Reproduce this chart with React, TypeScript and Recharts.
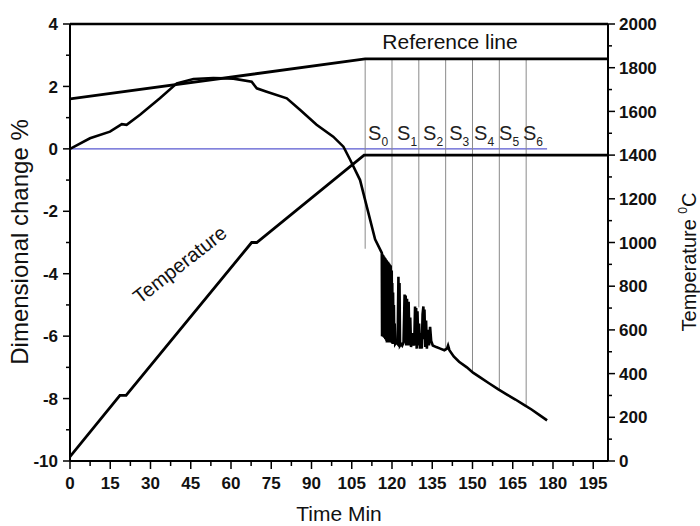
import React from 'react';
import { LineChart, Line, XAxis, YAxis, ReferenceLine, ReferenceDot } from 'recharts';

const FONT = 'Arial, "Liberation Sans", Helvetica, sans-serif';

// Dimensional change (%) vs time (min): [time, value]
const DIM_HEATING: [number, number][] = [
  [0, 0], [7.45, 0.34], [14.9, 0.55], [19.3, 0.79], [21.1, 0.77], [26.1, 1.09],
  [33.5, 1.62], [39.8, 2.1], [46, 2.24], [53.4, 2.27], [60.9, 2.25], [67.7, 2.15],
  [69.6, 1.94], [73.3, 1.83], [80.8, 1.62], [85.7, 1.25], [91.9, 0.77], [98.1, 0.39],
  [101.9, 0.07], [104.4, -0.35], [108.1, -1.0], [113.7, -2.9],
];
const DIM_OSCILLATION: [number, number][] = [
  [116.2, -3.33], [116.3, -6.0], [116.4, -3.36], [116.5, -6.0], [116.6, -3.4], [116.7, -6.02],
  [116.8, -3.42], [116.9, -6.0], [117.0, -3.45], [117.1, -6.05], [117.2, -3.47], [117.3, -6.05],
  [117.4, -3.5], [117.5, -6.1], [117.6, -3.52], [117.7, -6.1], [117.8, -3.55], [117.9, -6.15],
  [118.0, -3.57], [118.1, -6.2], [118.2, -3.6], [118.35, -6.2], [118.5, -3.62], [118.6, -6.2],
  [118.7, -3.65], [118.8, -6.15], [118.9, -3.67], [119.0, -6.2], [119.1, -3.7], [119.25, -6.2],
  [119.4, -3.72], [119.5, -6.2], [119.6, -3.75], [119.75, -6.2], [119.9, -3.9], [120.0, -6.22],
  [120.1, -4.3], [120.25, -6.25], [120.4, -4.6], [120.55, -6.25], [120.7, -5.0], [120.85, -6.25],
  [121.0, -5.6], [121.2, -6.25], [121.6, -6.2], [122.1, -6.25],
  [122.4, -4.1], [122.6, -6.3], [122.8, -4.3], [123.0, -6.3], [123.4, -6.25], [123.8, -6.3],
  [124.3, -6.2], [124.7, -4.67], [124.9, -6.2], [125.1, -4.7], [125.3, -6.3], [125.6, -4.8],
  [125.9, -6.3], [126.2, -4.9], [126.5, -6.3], [126.8, -5.4], [127.1, -6.35], [127.5, -5.9],
  [127.9, -6.3], [128.3, -6.2], [128.6, -5.05], [128.8, -6.3], [129.0, -5.1], [129.2, -6.4],
  [129.5, -5.2], [129.8, -6.3], [130.1, -5.6], [130.4, -6.4], [130.8, -5.9], [131.1, -6.4],
  [131.4, -5.3], [131.7, -5.05], [131.9, -6.1], [132.1, -5.15], [132.4, -6.35], [132.7, -5.5],
  [133.0, -6.4], [133.4, -5.8], [133.8, -6.3], [134.2, -5.7], [134.6, -6.15], [135.2, -6.3],
  [136.5, -6.35], [138, -6.4], [139.5, -6.45], [140.5, -6.4], [140.9, -6.3], [141.4, -6.45],
];
const DIM_COOLING: [number, number][] = [
  [143, -6.65], [145, -6.82], [147.9, -7.0], [150.2, -7.17], [153, -7.33], [156, -7.5],
  [159.5, -7.7], [163, -7.88], [166, -8.03], [169.2, -8.2], [172, -8.35], [175, -8.53],
  [177.8, -8.7],
];

// Temperature (°C) vs time (min)
const TEMPERATURE: [number, number][] = [
  [0, 20], [18.6, 300], [20.9, 300], [67.7, 1000], [69.6, 1000], [109.6, 1400], [200.5, 1400],
];

// Reference line (dimensional change %) vs time
const REFERENCE: [number, number][] = [
  [0, 1.6], [110, 2.88], [200.5, 2.88],
];

// Stage markers S0..S6
const MARKER_TIMES = [110, 120, 130, 140, 150, 160, 170];
const MARKER_BOTTOMS = [-3.2, -3.75, -5.08, -6.4, -7.15, -7.72, -8.24];
const MARKER_TOP = 2.88;
const STAGE_LABELS = ['0', '1', '2', '3', '4', '5', '6'];
const STAGE_LABEL_TIMES = [111.1, 121.9, 131.6, 141.3, 150.6, 159.9, 168.8];
const STAGE_LABEL_Y = 0.28;
const ZERO_LINE_END = 177.8;

const TIME_TICKS = [0, 7.5, 15, 22.5, 30, 37.5, 45, 52.5, 60, 67.5, 75, 82.5, 90, 97.5, 105, 112.5, 120, 127.5, 135, 142.5, 150, 157.5, 165, 172.5, 180, 187.5, 195];
const TIME_MAJOR = [0, 15, 30, 45, 60, 75, 90, 105, 120, 135, 150, 165, 180, 195];
const DIM_TICKS = [4, 3, 2, 1, 0, -1, -2, -3, -4, -5, -6, -7, -8, -9, -10];
const DIM_MAJOR = [4, 2, 0, -2, -4, -6, -8, -10];
const TEMP_TICKS = [0, 100, 200, 300, 400, 500, 600, 700, 800, 900, 1000, 1100, 1200, 1300, 1400, 1500, 1600, 1700, 1800, 1900, 2000];
const TEMP_MAJOR = [0, 200, 400, 600, 800, 1000, 1200, 1400, 1600, 1800, 2000];

const rows = (pairs: [number, number][], key: string) => pairs.map(([t, v]) => ({ t, [key]: v }));
const dimData = rows([...DIM_HEATING, ...DIM_OSCILLATION, ...DIM_COOLING], 'd');
const tempData = rows(TEMPERATURE, 'T');
const refData = rows(REFERENCE, 'r');

const tickText = { fontFamily: FONT, fontWeight: 700, fontSize: 17, fill: '#111' } as const;

const LeftTick = (props: any) => {
  const { x, y, payload } = props;
  const major = DIM_MAJOR.includes(payload.value);
  return (
    <g>
      <line x1={x} x2={x - (major ? 7 : 4)} y1={y} y2={y} stroke="#000" strokeWidth={1.5} />
      {major && (
        <text x={x - 12} y={y} dy="0.36em" textAnchor="end" {...tickText}>{payload.value}</text>
      )}
    </g>
  );
};

const RightTick = (props: any) => {
  const { x, y, payload } = props;
  const major = TEMP_MAJOR.includes(payload.value);
  return (
    <g>
      <line x1={x} x2={x + (major ? 7 : 4)} y1={y} y2={y} stroke="#000" strokeWidth={1.5} />
      {major && (
        <text x={x + 11} y={y} dy="0.36em" textAnchor="start" {...tickText}>{payload.value}</text>
      )}
    </g>
  );
};

const BottomTick = (props: any) => {
  const { x, y, payload } = props;
  const major = TIME_MAJOR.includes(payload.value);
  return (
    <g>
      <line x1={x} x2={x} y1={y} y2={y + (major ? 8 : 5)} stroke="#000" strokeWidth={1.5} />
      {major && (
        <text x={x} y={y + 28} textAnchor="middle" {...tickText}>{payload.value}</text>
      )}
    </g>
  );
};

const stageShape = (label: string) => (p: any) => (
  <text x={p.cx} y={p.cy} textAnchor="start" fontFamily={FONT} fontSize={20} fill="#222">
    S<tspan fontSize={12} dy={6}>{label}</tspan>
  </text>
);

export default function App() {
  return (
    <div style={{ position: 'absolute', left: 0, top: 0, width: 700, height: 526, background: '#fff' }}>
      <LineChart width={700} height={526} margin={{ top: 24, right: 12, bottom: 0, left: 0 }}>
        <XAxis
          dataKey="t"
          type="number"
          domain={[0, 200.5]}
          ticks={TIME_TICKS}
          interval={0}
          allowDataOverflow
          height={65}
          tickSize={0}
          tickMargin={0}
          tickLine={false}
          axisLine={{ stroke: '#000', strokeWidth: 2 }}
          tick={BottomTick}
        />
        <YAxis
          yAxisId="left"
          orientation="left"
          type="number"
          domain={[-10, 4]}
          ticks={DIM_TICKS}
          interval={0}
          width={70}
          tickSize={0}
          tickMargin={0}
          tickLine={false}
          axisLine={{ stroke: '#000', strokeWidth: 2 }}
          tick={LeftTick}
        />
        <YAxis
          yAxisId="right"
          orientation="right"
          type="number"
          domain={[0, 2000]}
          ticks={TEMP_TICKS}
          interval={0}
          width={80}
          tickSize={0}
          tickMargin={0}
          tickLine={false}
          axisLine={{ stroke: '#000', strokeWidth: 2 }}
          tick={RightTick}
        />
        <ReferenceLine yAxisId="left" y={4} stroke="#000" strokeWidth={2.5} />
        <ReferenceLine
          yAxisId="left"
          segment={[{ x: 0, y: 0 }, { x: ZERO_LINE_END, y: 0 }]}
          stroke="#5858d0"
          strokeWidth={1.2}
        />
        {MARKER_TIMES.map((t, i) => (
          <ReferenceLine
            key={t}
            yAxisId="left"
            segment={[{ x: t, y: MARKER_TOP }, { x: t, y: MARKER_BOTTOMS[i] }]}
            stroke="#8a8a8a"
            strokeWidth={1}
          />
        ))}
        <Line data={refData} dataKey="r" yAxisId="left" type="linear" stroke="#000" strokeWidth={2.8} dot={false} isAnimationActive={false} />
        <Line data={tempData} dataKey="T" yAxisId="right" type="linear" stroke="#000" strokeWidth={2.8} dot={false} isAnimationActive={false} />
        <Line data={dimData} dataKey="d" yAxisId="left" type="linear" stroke="#000" strokeWidth={2.6} dot={false} isAnimationActive={false} />
        {STAGE_LABELS.map((s, i) => (
          <ReferenceDot
            key={s}
            yAxisId="left"
            x={STAGE_LABEL_TIMES[i]}
            y={STAGE_LABEL_Y}
            r={1}
            shape={stageShape(s)}
          />
        ))}
        <text x={450} y={49} textAnchor="middle" fontFamily={FONT} fontSize={21} fill="#111">Reference line</text>
        <text transform="translate(184,270) rotate(-38)" textAnchor="middle" fontFamily={FONT} fontSize={20} fill="#111">Temperature</text>
        <text transform="translate(28,242) rotate(-90)" textAnchor="middle" fontFamily={FONT} fontSize={24} fill="#111">Dimensional change %</text>
        <text transform="translate(696,262) rotate(-90)" textAnchor="middle" fontFamily={FONT} fontSize={20} fill="#111">
          Temperature <tspan fontSize={12} dy={-9}>0</tspan><tspan dy={9}>C</tspan>
        </text>
        <text x={339} y={521} textAnchor="middle" fontFamily={FONT} fontSize={21} fill="#111">Time Min</text>
      </LineChart>
    </div>
  );
}
